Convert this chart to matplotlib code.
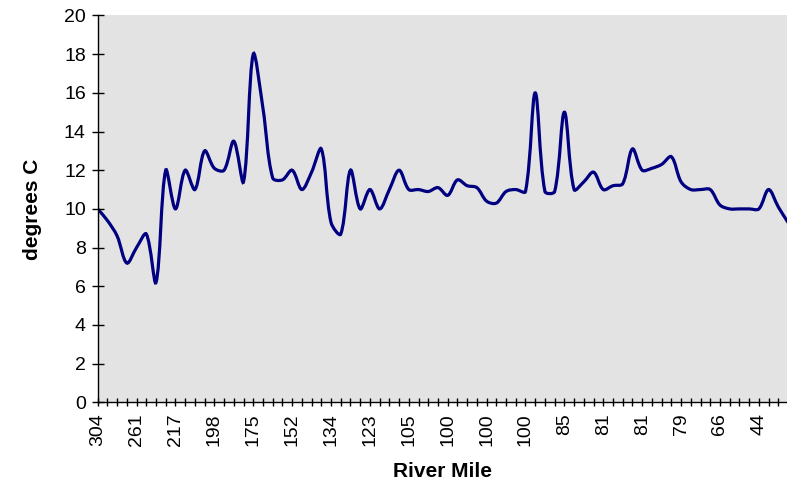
import numpy as np
import matplotlib
matplotlib.use("Agg")
import matplotlib.pyplot as plt
from matplotlib.path import Path
from matplotlib.patches import PathPatch

# river mile labels shown on the axis (every 4th station)
mile_labels = ["304", "261", "217", "198", "175", "152", "134", "123", "105",
               "100", "100", "100", "85", "81", "81", "79", "66", "44"]

# temperature at each station, degrees C
temps = [10.0, 9.4, 8.6, 7.2, 8.0, 8.7, 6.2, 12.0, 10.0, 12.0,
         11.0, 13.0, 12.1, 12.0, 13.5, 11.4, 18.0, 15.2, 11.6, 11.5,
         12.0, 11.0, 11.9, 13.1, 9.3, 8.7, 12.0, 10.0, 11.0, 10.0,
         11.0, 12.0, 11.0, 11.0, 10.9, 11.1, 10.7, 11.5, 11.2, 11.1,
         10.4, 10.3, 10.9, 11.0, 10.9, 16.0, 10.9, 10.9, 15.0, 11.0,
         11.4, 11.9, 11.0, 11.2, 11.3, 13.1, 12.0, 12.1, 12.3, 12.7,
         11.4, 11.0, 11.0, 11.0, 10.2, 10.0, 10.0, 10.0, 10.0, 11.0,
         10.1, 9.3]

plt.rcParams['font.family'] = ['Liberation Sans', 'DejaVu Sans']

n = len(temps)
x = np.arange(n, dtype=float)
y = np.array(temps)

# smoothed line, tangents scaled by neighbouring segment lengths (screen units)
sx, sy = 9.72, 19.4
pts = np.column_stack([x, y])
scr = pts * [sx, sy]


def seg(a, b):
    return np.hypot(*(scr[b] - scr[a]))


verts = [pts[0]]
codes = [Path.MOVETO]
for i in range(n - 1):
    i0 = max(i - 1, 0)
    i3 = min(i + 2, n - 1)
    d01 = seg(i0, i)
    d12 = seg(i, i + 1)
    d23 = seg(i + 1, i3)
    f1 = d12 / (d01 + d12) / 3.0 if d01 + d12 > 0 else 0
    f2 = d12 / (d12 + d23) / 3.0 if d12 + d23 > 0 else 0
    c1 = pts[i] + (pts[i + 1] - pts[i0]) * f1
    c2 = pts[i + 1] - (pts[i3] - pts[i]) * f2
    verts += [c1, c2, pts[i + 1]]
    codes += [Path.CURVE4] * 3

fig = plt.figure(figsize=(7.87, 4.87), dpi=100)
ax = fig.add_axes([0.1241, 0.1739, 0.8772, 0.7943])
ax.set_facecolor('#e3e3e3')
ax.add_patch(PathPatch(Path(verts, codes), facecolor='none',
                       edgecolor='#000080', lw=2.3, capstyle='round'))

ax.set_xlim(0, n - 1)
ax.set_ylim(0, 20)
ax.set_yticks(range(0, 21, 2))
ax.set_xticks(range(0, n, 4))
ax.set_xticklabels(mile_labels, rotation=90)
ax.set_xticks(range(n), minor=True)

for s in ['top', 'right']:
    ax.spines[s].set_visible(False)
for s in ['left', 'bottom']:
    ax.spines[s].set_color('black')
    ax.spines[s].set_linewidth(1.0)

ax.tick_params(axis='y', direction='inout', length=9, width=1,
               labelsize=14, pad=4)
ax.tick_params(axis='x', which='both', direction='inout', length=6,
               width=1, labelsize=14, pad=5)

ax.set_ylabel('degrees C', fontsize=15, fontweight='bold')
ax.yaxis.set_label_coords(-0.081, 0.5)
ax.set_xlabel('River Mile', fontsize=15, fontweight='bold')
ax.xaxis.set_label_coords(0.5, -0.155)

fig.savefig('out.png', dpi=100)
